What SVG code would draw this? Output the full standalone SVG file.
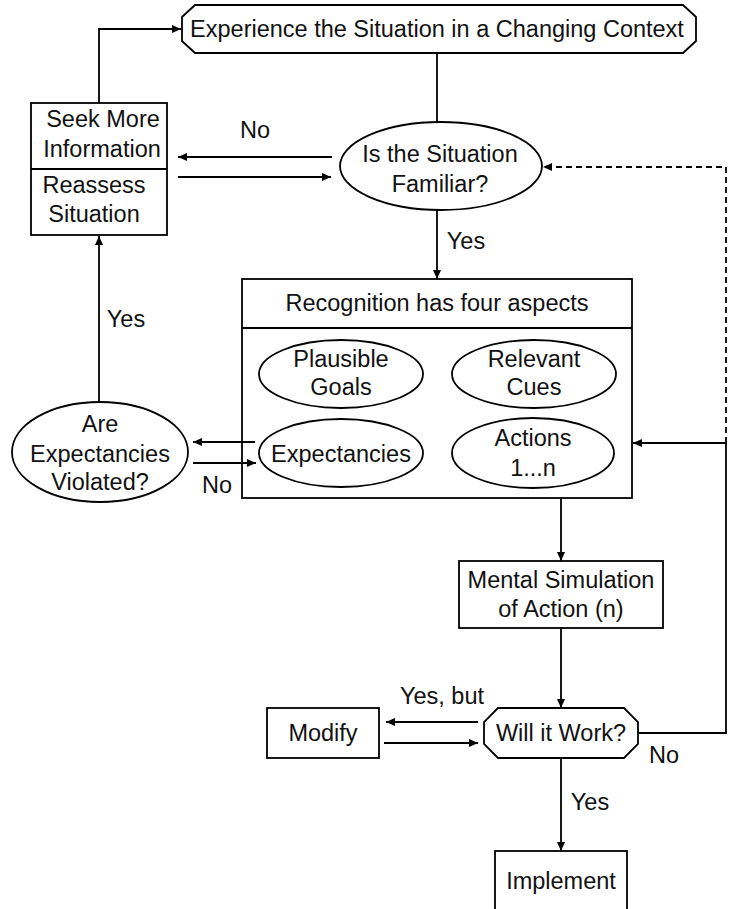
<svg xmlns="http://www.w3.org/2000/svg" width="731" height="909" viewBox="0 0 731 909">
<defs>
<marker id="ah" markerUnits="userSpaceOnUse" markerWidth="10" markerHeight="8" refX="9" refY="4" orient="auto">
<path d="M0,0 L9,4 L0,8 Z" fill="#000"/>
</marker>
<style>
.s{fill:#fff;stroke:#000;stroke-width:1.8}
.t{font-family:"Liberation Sans",Arial,sans-serif;font-size:23.5px;fill:#111;text-anchor:middle}
.c{fill:none;stroke:#000;stroke-width:1.8}
.a{marker-end:url(#ah)}
.d{stroke-dasharray:6,4}
</style>
</defs>
<rect width="731" height="909" fill="#fff"/>
<g id="experience">
<polygon class="s" points="195,5 683,5 696,17 696,41 683,53 195,53 182,41 182,17"/>
<text class="t" x="437" y="37">Experience the Situation in a Changing Context</text>
</g>
<g id="familiar">
<ellipse class="s" cx="441" cy="166" rx="101" ry="44"/>
<text class="t" x="440" y="162">Is the Situation</text>
<text class="t" x="440" y="192">Familiar?</text>
</g>
<g id="seek">
<rect class="s" x="31" y="103" width="136" height="132"/>
<line class="c" x1="31" y1="169" x2="167" y2="169"/>
<text class="t" x="103" y="127">Seek More</text>
<text class="t" x="102" y="157">Information</text>
<text class="t" x="94" y="193">Reassess</text>
<text class="t" x="94" y="222">Situation</text>
</g>
<g id="recognition">
<rect class="s" x="242" y="279" width="390" height="219"/>
<line class="c" x1="242" y1="328" x2="632" y2="328"/>
<text class="t" x="437" y="311">Recognition has four aspects</text>
</g>
<g id="goals">
<ellipse class="s" cx="341" cy="374" rx="82" ry="34"/>
<text class="t" x="341" y="367">Plausible</text>
<text class="t" x="341" y="395">Goals</text>
</g>
<g id="cues">
<ellipse class="s" cx="534" cy="374" rx="82" ry="34"/>
<text class="t" x="534" y="367">Relevant</text>
<text class="t" x="534" y="395">Cues</text>
</g>
<g id="expectancies">
<ellipse class="s" cx="341" cy="453" rx="82" ry="34"/>
<text class="t" x="341" y="462">Expectancies</text>
</g>
<g id="actions">
<ellipse class="s" cx="533" cy="453" rx="81" ry="35"/>
<text class="t" x="533" y="446">Actions</text>
<text class="t" x="533" y="476">1...n</text>
</g>
<g id="violated">
<ellipse class="s" cx="100" cy="452" rx="88" ry="50"/>
<text class="t" x="100" y="432">Are</text>
<text class="t" x="100" y="462">Expectancies</text>
<text class="t" x="100" y="490">Violated?</text>
</g>
<g id="simulation">
<rect class="s" x="459" y="561" width="204" height="67"/>
<text class="t" x="561" y="588">Mental Simulation</text>
<text class="t" x="561" y="617">of Action (n)</text>
</g>
<g id="work">
<polygon class="s" points="498,708 624,708 638,722 638,744 624,758 498,758 484,744 484,722"/>
<text class="t" x="561" y="741">Will it Work?</text>
</g>
<g id="modify">
<rect class="s" x="267" y="708" width="112" height="50"/>
<text class="t" x="323" y="741">Modify</text>
</g>
<g id="implement">
<rect class="s" x="495" y="851" width="132" height="75"/>
<text class="t" x="561" y="889">Implement</text>
</g>
<g id="connectors">
<path class="c a" d="M99,103 V29 H181"/>
<path class="c a" d="M332,157 H178"/>
<path class="c a" d="M178,177 H331"/>
<path class="c" d="M437,53 V122"/>
<path class="c a" d="M437,210 V279"/>
<path class="c a" d="M99,402 V236"/>
<path class="c a" d="M255,442 H193"/>
<path class="c a" d="M193,463 H256"/>
<path class="c a" d="M561,498 V561"/>
<path class="c a" d="M561,628 V708"/>
<path class="c a" d="M478,722 H386"/>
<path class="c a" d="M384,743 H478"/>
<path class="c a" d="M561,758 V851"/>
<path class="c a" d="M638,733 H726 V443 H633"/>
<path class="c a d" d="M726,443 V167 H543"/>
<text class="t" x="255" y="138">No</text>
<text class="t" x="466" y="249">Yes</text>
<text class="t" x="126" y="327">Yes</text>
<text class="t" x="217" y="493">No</text>
<text class="t" x="442" y="704">Yes, but</text>
<text class="t" x="664" y="763">No</text>
<text class="t" x="590" y="810">Yes</text>
</g>
</svg>
